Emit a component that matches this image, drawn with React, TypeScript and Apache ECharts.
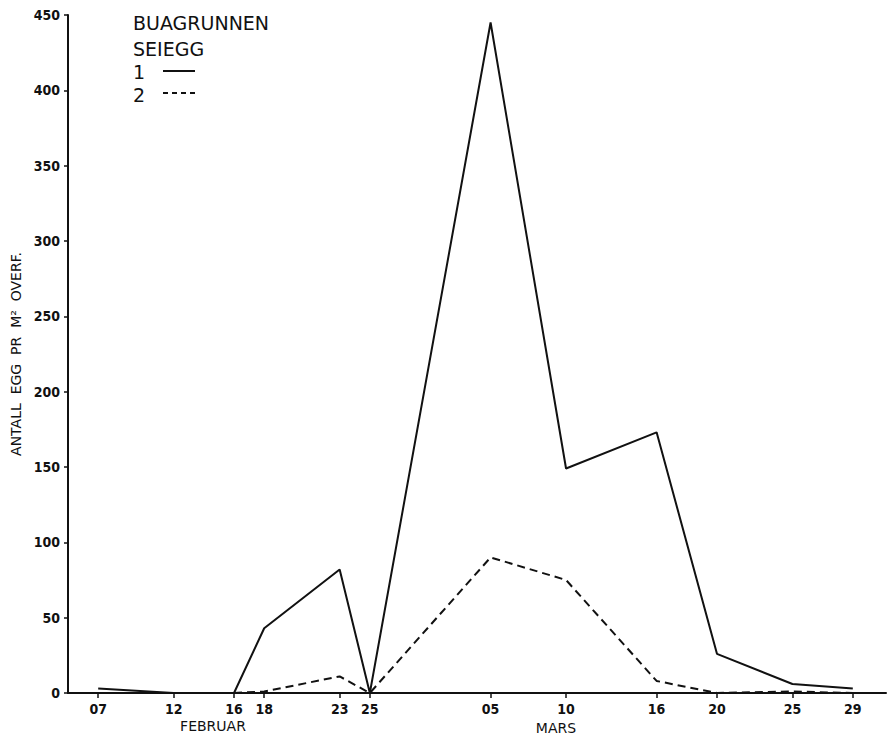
import React, { useEffect, useRef } from "react";
import * as echarts from "echarts";

// Day number counted from 1 February (non-leap year: 1 March = day 29)
const tickDays = [7, 12, 16, 18, 23, 25, 33, 38, 44, 48, 53, 57];
const tickLabels = ["07", "12", "16", "18", "23", "25", "05", "10", "16", "20", "25", "29"];

const series1Days = [7, 12, 16, 18, 23, 25, 33, 38, 44, 48, 53, 57];
const series1Values = [3, 0, 0, 43, 82, 0, 445, 149, 173, 26, 6, 3];

const series2Days = [16, 18, 23, 25, 33, 38, 44, 48, 53, 57];
const series2Values = [0, 1, 11, 0, 90, 75, 8, 0, 1, 0];

const yMin = 0;
const yMax = 450;
const yInterval = 50;

const legendTitle1 = "BUAGRUNNEN";
const legendTitle2 = "SEIEGG";
const seriesNames = ["1", "2"];
const yAxisTitle = "ANTALL  EGG  PR  M\u00B2  OVERF.";
const monthLabels = ["FEBRUAR", "MARS"];

const INK = "#111";
const NUM_FONT = "DejaVu Sans Condensed";
const TXT_FONT = "DejaVu Sans";

export default function App() {
  const ref = useRef<HTMLDivElement>(null);

  useEffect(() => {
    if (!ref.current) return;
    const chart = echarts.init(ref.current, undefined, { renderer: "svg" });

    const s1 = series1Days.map((d, i) => [d, series1Values[i]]);
    const s2 = series2Days.map((d, i) => [d, series2Values[i]]);

    chart.setOption({
      animation: false,
      backgroundColor: "#fff",
      grid: { left: 68, right: 2, top: 15, bottom: 47 },
      xAxis: {
        type: "value",
        min: 5,
        max: 59.2,
        axisLine: { show: true, lineStyle: { color: INK, width: 2 } },
        axisTick: {
          show: true,
          customValues: tickDays,
          length: 5,
          lineStyle: { color: INK, width: 1.5 },
        },
        axisLabel: {
          customValues: tickDays,
          margin: 9,
          color: INK,
          fontFamily: NUM_FONT,
          fontWeight: "bold",
          fontSize: 14,
          formatter: (v: number) => {
            const i = tickDays.indexOf(v);
            return i >= 0 ? tickLabels[i] : "";
          },
        },
        splitLine: { show: false },
      },
      yAxis: {
        type: "value",
        min: yMin,
        max: yMax,
        interval: yInterval,
        name: yAxisTitle,
        nameLocation: "middle",
        nameRotate: 90,
        nameGap: 40,
        nameTextStyle: {
          color: INK,
          fontFamily: TXT_FONT,
          fontSize: 14,
        },
        axisLine: { show: true, lineStyle: { color: INK, width: 2 } },
        axisTick: { show: true, length: 4, lineStyle: { color: INK, width: 1.5 } },
        axisLabel: {
          margin: 8,
          color: INK,
          fontFamily: NUM_FONT,
          fontWeight: "bold",
          fontSize: 14,
        },
        splitLine: { show: false },
      },
      series: [
        {
          name: seriesNames[0],
          type: "line",
          data: s1,
          showSymbol: false,
          symbol: "none",
          lineStyle: { color: INK, width: 2, type: "solid" },
        },
        {
          name: seriesNames[1],
          type: "line",
          data: s2,
          showSymbol: false,
          symbol: "none",
          lineStyle: { color: INK, width: 2, type: [8, 5] },
        },
      ],
      graphic: [
        {
          type: "text",
          left: 133,
          top: 13,
          style: { text: legendTitle1, fill: INK, font: `19px "${TXT_FONT}"` },
        },
        {
          type: "text",
          left: 133,
          top: 39,
          style: { text: legendTitle2, fill: INK, font: `19px "${TXT_FONT}"` },
        },
        {
          type: "text",
          left: 133,
          top: 62,
          style: { text: seriesNames[0], fill: INK, font: `19px "${TXT_FONT}"` },
        },
        {
          type: "text",
          left: 133,
          top: 85,
          style: { text: seriesNames[1], fill: INK, font: `19px "${TXT_FONT}"` },
        },
        {
          type: "line",
          shape: { x1: 163, y1: 71, x2: 195, y2: 71 },
          style: { stroke: INK, lineWidth: 2 },
        },
        {
          type: "line",
          shape: { x1: 163, y1: 93, x2: 195, y2: 93 },
          style: { stroke: INK, lineWidth: 2, lineDash: [5, 4] },
        },
        {
          type: "text",
          x: 213,
          y: 726,
          style: {
            text: monthLabels[0],
            fill: INK,
            font: `14px "${TXT_FONT}"`,
            align: "center",
            verticalAlign: "middle",
          },
        },
        {
          type: "text",
          x: 556,
          y: 728,
          style: {
            text: monthLabels[1],
            fill: INK,
            font: `14px "${TXT_FONT}"`,
            align: "center",
            verticalAlign: "middle",
          },
        },
      ],
    });

    return () => chart.dispose();
  }, []);

  return (
    <div
      ref={ref}
      style={{ position: "absolute", left: 0, top: 0, width: 888, height: 740 }}
    />
  );
}
